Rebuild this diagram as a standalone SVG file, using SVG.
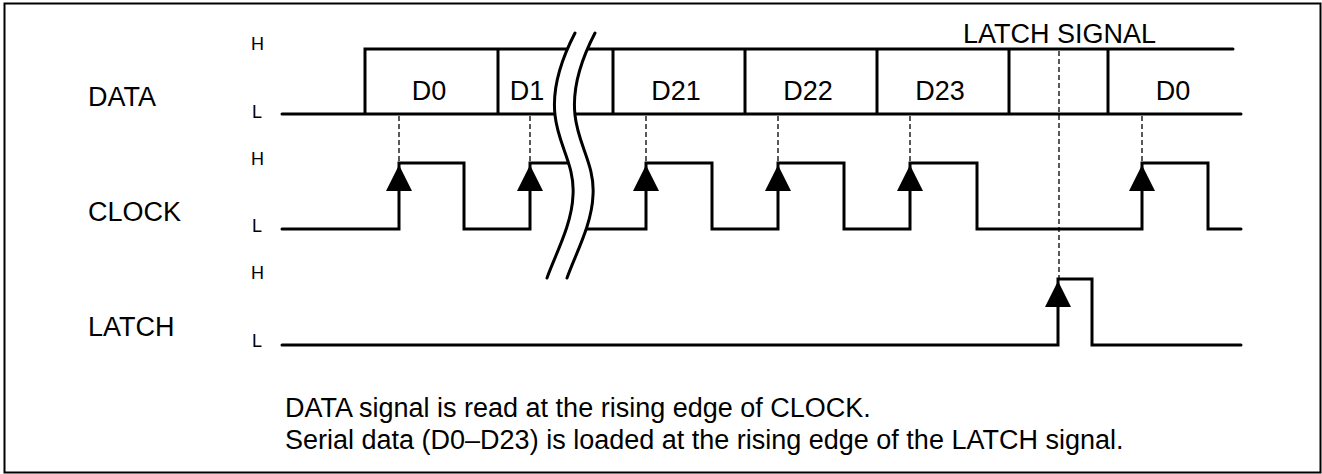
<svg xmlns="http://www.w3.org/2000/svg" xmlns:xlink="http://www.w3.org/1999/xlink" width="1322" height="474" viewBox="0 0 1322 474">
<style>
text{font-family:"Liberation Sans",Arial,sans-serif;fill:#000}
.lbl{font-size:27px}
.hl{font-size:18px}
.cap{font-size:27px}
.sig{fill:none;stroke:#000;stroke-width:3;stroke-linejoin:miter;stroke-linecap:round}
.dash{fill:none;stroke:#000;stroke-width:1.3;stroke-dasharray:5,3}
.brk{fill:none;stroke:#000;stroke-width:3;stroke-linecap:round}
</style>
<defs>
<path id="arr" d="M0,0 L13,26 L-13,26 Z" fill="#000"/>
</defs>
<rect x="4.5" y="3.5" width="1316" height="469" fill="#fff" stroke="#000" stroke-width="2"/>

<g id="labels">
<text class="lbl" x="88" y="106">DATA</text>
<text class="lbl" x="88" y="221">CLOCK</text>
<text class="lbl" x="88" y="336">LATCH</text>
<text class="hl" x="251" y="50">H</text>
<text class="hl" x="252" y="118">L</text>
<text class="hl" x="251" y="165">H</text>
<text class="hl" x="252" y="232">L</text>
<text class="hl" x="251" y="279">H</text>
<text class="hl" x="252" y="347">L</text>
</g>

<g id="data">
<path class="sig" d="M282,114 H1241 M365,114 V49 H1233 M498,49 V114 M613,49 V114 M745,49 V114 M877,49 V114 M1009,49 V114 M1108,49 V114"/>
<text class="lbl" x="429" y="100" text-anchor="middle">D0</text>
<text class="lbl" x="527" y="100" text-anchor="middle">D1</text>
<text class="lbl" x="676" y="100" text-anchor="middle">D21</text>
<text class="lbl" x="808" y="100" text-anchor="middle">D22</text>
<text class="lbl" x="940" y="100" text-anchor="middle">D23</text>
<text class="lbl" x="1173" y="100" text-anchor="middle">D0</text>
<text class="lbl" x="963" y="43">LATCH SIGNAL</text>
</g>

<g id="clock">
<path class="sig" d="M282,229 H399 V163 H464 V229 H530 V163 H574 M585,229 H646 V163 H712 V229 H778 V163 H844 V229 H910 V163 H977 V229 H1142 V163 H1208 V229 H1241"/>
<use xlink:href="#arr" x="399" y="165"/>
<use xlink:href="#arr" x="530" y="165"/>
<use xlink:href="#arr" x="646" y="165"/>
<use xlink:href="#arr" x="778" y="165"/>
<use xlink:href="#arr" x="910" y="165"/>
<use xlink:href="#arr" x="1142" y="165"/>
</g>

<g id="latch">
<path class="sig" d="M282,345 H1058 V279 H1092 V345 H1241"/>
<use xlink:href="#arr" x="1058" y="281"/>
</g>

<g id="break">
<path d="M575,33 C562,58 552,88 555,115 C558,145 575,165 573,195 C572,225 555,255 547,278 L567,278 C575,255 592,225 593,195 C595,165 578,145 575,115 C572,88 582,58 595,33 Z" fill="#fff" stroke="none"/>
<path class="brk" d="M575,33 C562,58 552,88 555,115 C558,145 575,165 573,195 C572,225 555,255 547,278"/>
<path class="brk" d="M595,33 C582,58 572,88 575,115 C578,145 595,165 593,195 C592,225 575,255 567,278"/>
</g>

<g id="connectors">
<path class="dash" d="M399,116 V163 M530,116 V163 M646,116 V163 M778,116 V163 M910,116 V163 M1142,116 V163 M1059,51 V279"/>
</g>

<g id="caption">
<text class="cap" x="285" y="417">DATA signal is read at the rising edge of CLOCK.</text>
<text class="cap" x="285" y="449">Serial data (D0–D23) is loaded at the rising edge of the LATCH signal.</text>
</g>
</svg>
